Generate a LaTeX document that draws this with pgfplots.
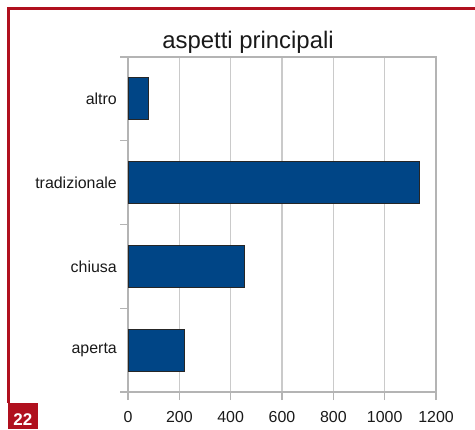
\documentclass[border=0pt]{standalone}
\usepackage{pgfplots}
\pgfplotsset{compat=1.18}
\usepackage{fontspec}
\setmainfont{Liberation Sans}
\definecolor{barblue}{HTML}{004586}
\definecolor{redframe}{HTML}{B0101E}
\definecolor{gridgray}{HTML}{CACACA}
\definecolor{axisgray}{HTML}{B4B4B4}
\begin{document}
\begin{tikzpicture}[x=1bp,y=1bp]
\useasboundingbox (0,0) rectangle (475,429);
\begin{axis}[
  at={(128bp,37bp)}, anchor=south west, scale only axis,
  width=308bp, height=335bp,
  xbar, bar width=0.5,
  xmin=0, xmax=1200, ymin=-0.5, ymax=3.5,
  xtick={0,200,...,1200},
  /pgf/number format/assume math mode=true,
  /pgf/number format/1000 sep={},
  xtick pos=bottom, ytick pos=left,
  tick align=outside,
  xmajorgrids,
  grid style={gridgray, line width=1.2bp},
  axis line style={axisgray, line width=1.2bp},
  every tick/.style={axisgray, line width=1.2bp},
  major tick length=8bp,
  ytick={-0.5,0.5,1.5,2.5,3.5}, yticklabels={},
  extra y ticks={0,1,2,3},
  extra y tick labels={aperta,chiusa,tradizionale,altro},
  extra y tick style={major tick length=0pt, yticklabel style={anchor=east, inner sep=0pt, xshift=-11bp}},
  xticklabel style={inner sep=0pt, yshift=-11bp, font=\fontsize{16}{18}\selectfont, text=black!90},
  yticklabel style={font=\fontsize{16}{18}\selectfont, text=black!90},
]
\addplot[fill=barblue, draw=black!85, line width=1bp] coordinates {(222,0) (452,1) (1137,2) (78,3)};
\end{axis}
\node[anchor=base, text=black!90] at (248,381) {\fontsize{24}{28}\selectfont aspetti principali};
\draw[redframe, line width=3bp] (7.3,420) -- (476,420);
\draw[redframe, line width=2.5bp] (8.7,421.5) -- (8.7,26);
\fill[redframe] (7.5,0) rectangle (38,26);
\node[anchor=base, text=white, inner sep=0pt] at (22.8,4) {\bfseries\fontsize{17}{17}\selectfont 22};
\end{tikzpicture}
\end{document}
